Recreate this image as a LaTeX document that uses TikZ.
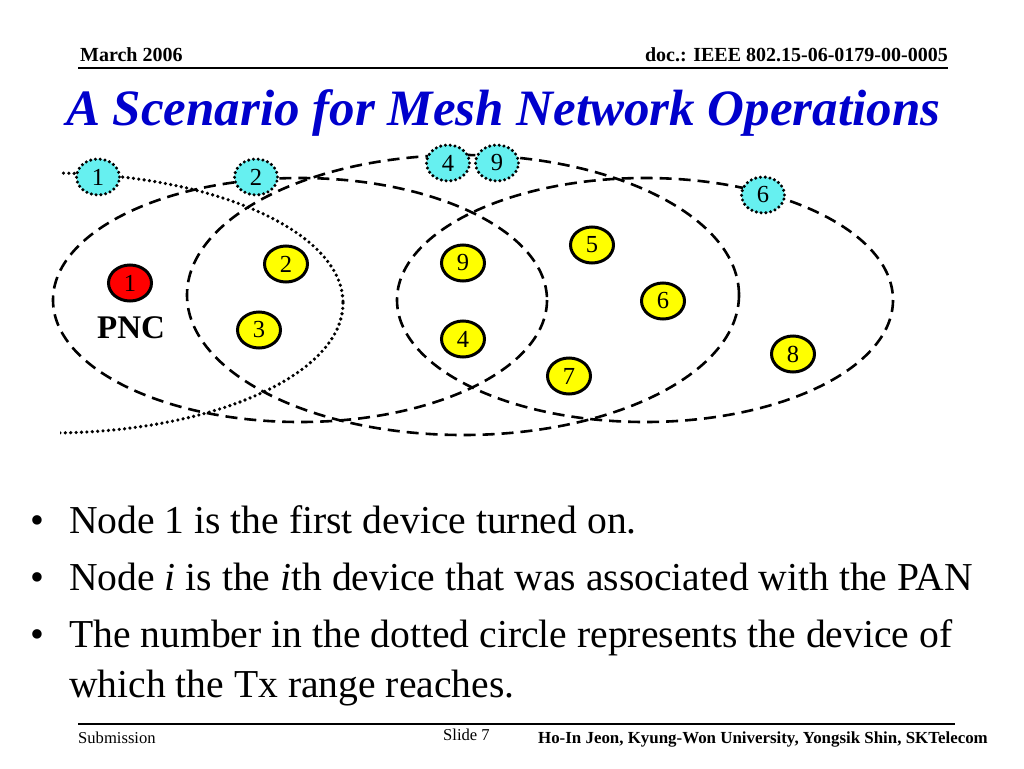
\documentclass[tikz,border=0pt]{standalone}
\usepackage{fontspec}
\setmainfont{Liberation Serif}
\usetikzlibrary{shapes.geometric}
\definecolor{titleblue}{RGB}{0,0,204}
\definecolor{cyannode}{RGB}{102,240,240}
\definecolor{pncred}{RGB}{255,0,0}
\definecolor{devyellow}{RGB}{255,255,0}
\begin{document}
\begin{tikzpicture}[x=1pt,y=-1pt,
  dev/.style={ellipse, draw=black, line width=3pt, minimum width=43pt, minimum height=36pt, inner sep=0pt, font=\fontsize{24.5}{24.5}\selectfont},
  yeldev/.style={dev, fill=devyellow},
  pncdev/.style={dev, fill=pncred},
  heard/.style={dev, fill=cyannode, line cap=round, dash pattern=on 0pt off 4.8pt, line width=3.4pt},
  rangeline/.style={line width=2.6pt, dash pattern=on 12pt off 7pt},
  dotrange/.style={line width=3.6pt, line cap=round, dash pattern=on 0pt off 5.4pt},
  rule/.style={line width=1.4pt},
  hdr/.style={font=\bfseries\fontsize{20}{20}\selectfont, inner sep=0pt},
  ftr/.style={font=\fontsize{16.6}{16.6}\selectfont, inner sep=0pt},
  bul/.style={font=\fontsize{39.6}{39.6}\selectfont, inner sep=0pt, anchor=base west}
]
\useasboundingbox (0,0) rectangle (1024,768);
% header
\node[hdr, anchor=base west] (date) at (80,62) {March 2006};
\node[hdr, anchor=base east] (doc) at (948,62) {doc.: IEEE 802.15-06-0179-00-0005};
\draw[rule] (78,68) -- (948,68);
% title
\node[anchor=base west, inner sep=0pt, text=titleblue, font=\bfseries\itshape\fontsize{51}{51}\selectfont] (title) at (66,125) {A Scenario for Mesh Network Operations};
% ranges
\draw[rangeline] (300,300) ellipse [x radius=247, y radius=122];
\draw[rangeline] (463,295) ellipse [x radius=276, y radius=140];
\draw[rangeline] (645,300) ellipse [x radius=248, y radius=122];
\begin{scope}
  \clip (60,0) rectangle (1024,768);
  \draw[dotrange] (50,303) ellipse [x radius=293, y radius=130];
\end{scope}
% devices
\node[pncdev] (n1) at (130,283) {1};
\node[font=\bfseries\fontsize{33}{33}\selectfont, inner sep=0pt] (pnc) at (131,328) {PNC};
\node[yeldev] (n2) at (286,264) {2};
\node[yeldev] (n3) at (259,330) {3};
\node[yeldev] (n9) at (463,263) {9};
\node[yeldev] (n4) at (463,339) {4};
\node[yeldev] (n5) at (592,245) {5};
\node[yeldev] (n6) at (663,301) {6};
\node[yeldev] (n7) at (569,376) {7};
\node[yeldev] (n8) at (793,354) {8};
% heard devices
\node[heard] (h1) at (98,177) {1};
\node[heard] (h2) at (256,177) {2};
\node[heard] (h4) at (448,163) {4};
\node[heard] (h9) at (497,163) {9};
\node[heard] (h6) at (763,195) {6};
% bullets
\node[bul] (b1) at (30,533) {\textbullet};
\node[bul] (t1) at (69,533) {Node 1 is the first device turned on.};
\node[bul] (b2) at (30,590) {\textbullet};
\node[bul] (t2) at (69,590) {Node \textit{i} is the \textit{i}th device that was associated with the PAN};
\node[bul] (b3) at (30,647) {\textbullet};
\node[bul] (t3) at (69,647) {The number in the dotted circle represents the device of};
\node[bul] (t4) at (69,697) {which the Tx range reaches.};
% footer
\draw[rule] (78,724) -- (955,724);
\node[ftr, anchor=base west] (sub) at (78,743) {Submission};
\node[ftr, anchor=base west] (slide) at (443,740) {Slide 7};
\node[ftr, anchor=base east, font=\bfseries\fontsize{16.9}{16.9}\selectfont] (auth) at (988,743) {Ho-In Jeon, Kyung-Won University, Yongsik Shin, SKTelecom};
\end{tikzpicture}
\end{document}
